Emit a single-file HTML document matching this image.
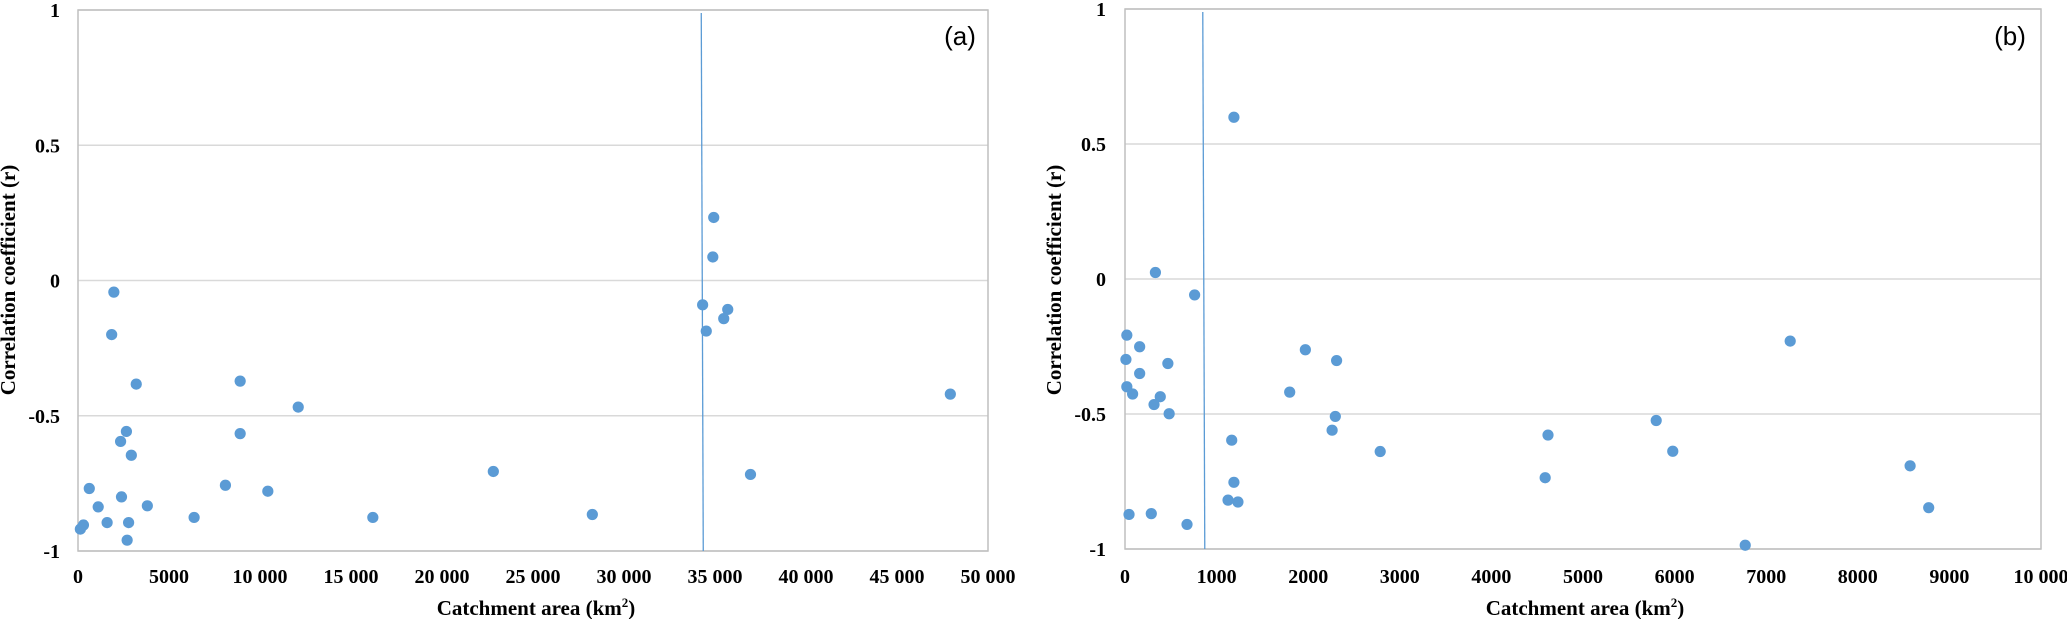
<!DOCTYPE html>
<html><head><meta charset="utf-8"><style>
html,body{margin:0;padding:0;background:#fff;}
svg{display:block;}
text{font-family:"Liberation Serif",serif;font-weight:bold;fill:#000;}
</style></head><body>
<svg id="chart" width="2067" height="619" viewBox="0 0 2067 619" xmlns="http://www.w3.org/2000/svg"></svg>
<script>
// Panel (a) data
const aArea = [1970,1850,3200,8910,12100,2660,8910,2340,2930,22820,620,8100,10430,2390,1110,3810,6380,16200,28260,1600,2780,300,130,2700,34930,34880,34320,34520,35700,35480,36950,47930];
const aCorr = [-0.043,-0.20,-0.383,-0.372,-0.468,-0.558,-0.566,-0.595,-0.646,-0.706,-0.769,-0.757,-0.779,-0.800,-0.837,-0.833,-0.876,-0.876,-0.865,-0.895,-0.895,-0.904,-0.919,-0.96,0.233,0.087,-0.090,-0.187,-0.107,-0.141,-0.717,-0.42];
const aXTicks = [0,5000,10000,15000,20000,25000,30000,35000,40000,45000,50000];
const aXTickLabels = ["0","5000","10 000","15 000","20 000","25 000","30 000","35 000","40 000","45 000","50 000"];
const aVLine = [34300];
// Panel (b) data
const bArea = [1189,332,760,20,160,10,468,160,20,83,385,317,482,1165,1189,1125,1233,44,287,677,1969,2310,1798,2296,2261,2786,4618,4587,5799,5980,7262,8571,8774,6771];
const bCorr = [0.599,0.024,-0.059,-0.208,-0.251,-0.298,-0.313,-0.35,-0.399,-0.426,-0.436,-0.465,-0.499,-0.597,-0.753,-0.819,-0.826,-0.872,-0.869,-0.909,-0.262,-0.302,-0.419,-0.509,-0.560,-0.639,-0.578,-0.736,-0.524,-0.638,-0.23,-0.692,-0.847,-0.986];
const bXTicks = [0,1000,2000,3000,4000,5000,6000,7000,8000,9000,10000];
const bXTickLabels = ["0","1000","2000","3000","4000","5000","6000","7000","8000","9000","10 000"];
const bVLine = [860];
const yTicks = [1,0.5,0,-0.5,-1];
const yTickLabels = ["1","0.5","0","-0.5","-1"];

const NS="http://www.w3.org/2000/svg";
const svg=document.getElementById('chart');
function mk(tag,attrs,parent){const e=document.createElementNS(NS,tag);for(const k in attrs)e.setAttribute(k,attrs[k]);(parent||svg).appendChild(e);return e;}

function panel(cfg){
  const g=mk('g',{});
  
  
  const xs=v=>cfg.x0+(v-cfg.xmin)/(cfg.xmax-cfg.xmin)*(cfg.x1-cfg.x0);
  const ys=v=>cfg.y0+(1-v)/2*(cfg.y1-cfg.y0);
  // gridlines
  yTicks.forEach((t,i)=>{
    const l=mk('line',{x1:cfg.x0,x2:cfg.x1,y1:ys(t),y2:ys(t),stroke:'#d9d9d9','stroke-width':1.5},g);
    
    
    const tx=mk('text',{x:cfg.ylx,y:ys(t)+7,'text-anchor':'end','font-size':20},g);
    tx.textContent=yTickLabels[i];
    
    
  });
  const fr=mk('rect',{x:cfg.x0,y:cfg.y0,width:cfg.x1-cfg.x0,height:cfg.y1-cfg.y0,fill:'none',stroke:'#bfbfbf','stroke-width':1.5},g);
  
  
  cfg.ticks.forEach((t,i)=>{
    const tx=mk('text',{x:xs(t),y:583,'text-anchor':'middle','font-size':20},g);
    tx.textContent=cfg.tickLabels[i];
    
    
  });
  cfg.vline.forEach(v=>{
    const l=mk('line',{x1:xs(v)-1,x2:xs(v)+1,y1:cfg.y0+3,y2:cfg.y1,stroke:'#5b9bd5','stroke-width':1.3},g);
    
    
  });
  cfg.xs.forEach((v,i)=>{
    const c=mk('circle',{cx:xs(v),cy:ys(cfg.ys[i]),r:5.6,fill:'#5b9bd5'},g);
    
    
  });
  const xt=mk('text',{x:cfg.xtx,y:615,'text-anchor':'middle','font-size':21},g);
  xt.innerHTML='Catchment area (km<tspan dy="-8" font-size="13">2</tspan><tspan dy="8">)</tspan>';
  
  
  const yt=mk('text',{x:0,y:0,'text-anchor':'middle','font-size':21,transform:`translate(${cfg.ytx},280) rotate(-90)`},g);
  yt.textContent='Correlation coefficient (r)';
  
  
  const pl=mk('text',{x:cfg.plx,y:45,'text-anchor':'middle','font-size':26,style:'font-family:"Liberation Sans",sans-serif;font-weight:normal'},g);
  pl.textContent=cfg.label;
  
  
}
panel({name:'panel-a',x0:78,x1:988,xmin:0,xmax:50000,y0:10,y1:551,xs:aArea,ys:aCorr,ticks:aXTicks,tickLabels:aXTickLabels,vline:aVLine,ylx:60,xtx:536,ytx:15,plx:960,label:'(a)'});
panel({name:'panel-b',x0:1125,x1:2041,xmin:0,xmax:10000,y0:9,y1:549,xs:bArea,ys:bCorr,ticks:bXTicks,tickLabels:bXTickLabels,vline:bVLine,ylx:1106,xtx:1585,ytx:1061,plx:2010,label:'(b)'});
</script>
</body></html>
